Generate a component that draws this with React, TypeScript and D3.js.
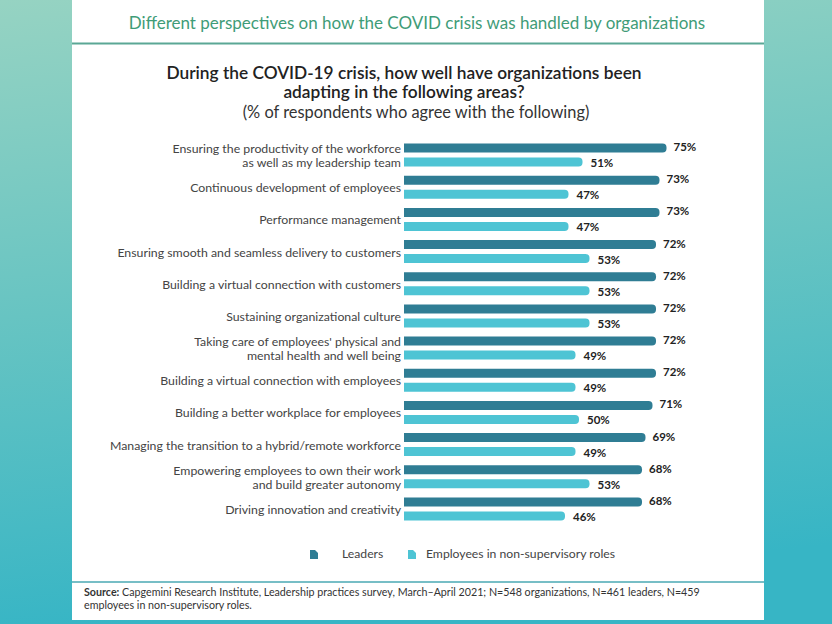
import * as d3 from 'd3'

const categories = [
  ['Ensuring the productivity of the workforce', 'as well as my leadership team'],
  ['Continuous development of employees'],
  ['Performance management'],
  ['Ensuring smooth and seamless delivery to customers'],
  ['Building a virtual connection with customers'],
  ['Sustaining organizational culture'],
  ["Taking care of employees' physical and", 'mental health and well being'],
  ['Building a virtual connection with employees'],
  ['Building a better workplace for employees'],
  ['Managing the transition to a hybrid/remote workforce'],
  ['Empowering employees to own their work', 'and build greater autonomy'],
  ['Driving innovation and creativity'],
]
const leaders = [75, 73, 73, 72, 72, 72, 72, 72, 71, 69, 68, 68]
const employees = [51, 47, 47, 53, 53, 53, 49, 49, 50, 49, 53, 46]
const seriesNames = ['Leaders', 'Employees in non-supervisory roles']

const W = 832
const H = 624
const FONT = "Lato, 'Noto Sans', sans-serif"
const LEAD = '#2f7d94'
const EMP = '#4ec4d4'

const x = d3.scaleLinear().domain([0, 100]).range([404, 754])
const y = d3
  .scaleBand<number>()
  .domain(d3.range(categories.length))
  .range([140, 526])
  .paddingInner(0)

const barH = 9

// bar with rounded right end
const barPath = (x0: number, x1: number, yc: number) => {
  const r = 4
  const t = yc - barH / 2
  const b = yc + barH / 2
  return `M${x0},${t}H${x1 - r}Q${x1},${t} ${x1},${t + r}V${b - r}Q${x1},${b} ${x1 - r},${b}H${x0}Z`
}

const iconPath = (px: number, py: number) =>
  `M${px},${py}H${px + 5}L${px + 8},${py + 3}V${py + 9}H${px}Z`

export default function App() {
  const rowCenter = (i: number) => (y(i) || 0) + y.bandwidth() / 2
  return (
    <svg
      width={W}
      height={H}
      style={{ position: 'absolute', left: 0, top: 0 }}
      fontFamily={FONT}
    >
      <defs>
        <linearGradient id="bg" x1="0" y1="0" x2="0.15" y2="1">
          <stop offset="0" stopColor="#96d3c2" />
          <stop offset="0.5" stopColor="#67c4c2" />
          <stop offset="1" stopColor="#37b5c5" />
        </linearGradient>
      </defs>
      <rect width={W} height={H} fill="url(#bg)" />
      <rect x={72} y={0} width={692} height={620} fill="#ffffff" />
      <line x1={72} x2={764} y1={43.5} y2={43.5} stroke="#5ba795" strokeWidth={2} />
      <text x={417} y={29} textAnchor="middle" fontSize={17} fill="#3f9c78">
        Different perspectives on how the COVID crisis was handled by organizations
      </text>

      <g textAnchor="middle" fill="#222" fontSize={17.3}>
        <text x={404} y={79} fontWeight={600}>
          During the COVID-19 crisis, how well have organizations been
        </text>
        <text x={404} y={98} fontWeight={600}>
          adapting in the following areas?
        </text>
        <text x={416} y={118} fill="#333" fontSize={16.4}>
          (% of respondents who agree with the following)
        </text>
      </g>

      {categories.map((lines, i) => {
        const c = rowCenter(i)
        const yl = c - 8
        const ye = c + 6
        return (
          <g key={i}>
            {lines.map((l, k) => (
              <text
                key={k}
                textAnchor="end"
                fontSize={12.3}
                fill="#444"
                x={401}
                y={c + 4 + (k - (lines.length - 1) / 2) * 14.5}
              >
                {l}
              </text>
            ))}
            <path d={barPath(x(0), x(leaders[i]), yl)} fill={LEAD} />
            <path d={barPath(x(0), x(employees[i]), ye)} fill={EMP} />
            <text
              x={x(leaders[i]) + 7}
              y={yl + 3}
              fontSize={11.5}
              fontWeight={700}
              fill="#222"
            >
              {leaders[i]}%
            </text>
            <text
              x={x(employees[i]) + 8}
              y={ye + 5}
              fontSize={11.5}
              fontWeight={700}
              fill="#222"
            >
              {employees[i]}%
            </text>
          </g>
        )
      })}

      <g fontSize={12.2} fill="#444">
        <path d={iconPath(310, 550)} fill={LEAD} />
        <text x={342} y={558}>{seriesNames[0]}</text>
        <path d={iconPath(408, 550)} fill={EMP} />
        <text x={426} y={558}>{seriesNames[1]}</text>
      </g>

      <line x1={72} x2={764} y1={582} y2={582} stroke="#4aa9b3" strokeWidth={1.5} />
      <g fontSize={10.7} fill="#333">
        <text x={84} y={596}>
          <tspan fontWeight={700}>Source:</tspan> Capgemini Research Institute, Leadership
          practices survey, March–April 2021; N=548 organizations, N=461 leaders, N=459
        </text>
        <text x={84} y={609}>employees in non-supervisory roles.</text>
      </g>
    </svg>
  )
}
